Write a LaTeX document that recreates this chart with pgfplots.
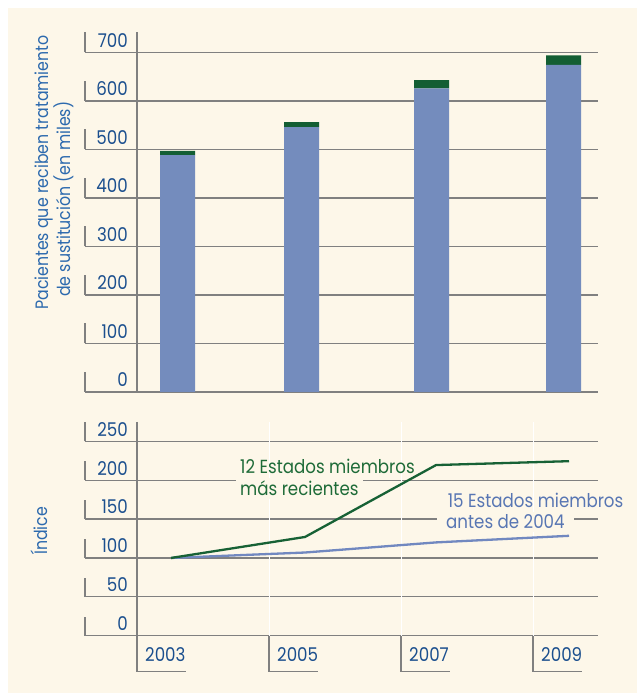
\documentclass[border=0pt]{standalone}
\usepackage{pgfplots}
\pgfplotsset{compat=1.18}
\usepackage{fontspec}
\setmainfont{Poppins}[FakeStretch=0.88]
\definecolor{cream}{HTML}{FDF7E9}
\definecolor{barblue}{HTML}{748CBD}
\definecolor{bargreen}{HTML}{135E33}
\definecolor{ticktext}{HTML}{1B4F8E}
\definecolor{labtext}{HTML}{2D6AAE}
\definecolor{gridc}{HTML}{808080}
\definecolor{greentext}{HTML}{1E6B38}
\definecolor{bluetext}{HTML}{5876B3}
\definecolor{greenline}{HTML}{176135}
\definecolor{blueline}{HTML}{7188C0}
\newcommand{\tickfont}{\fontsize{19}{22}\selectfont}
\newcommand{\annfont}{\fontsize{19}{22}\selectfont}
\newcommand{\labfont}{\fontsize{18}{21}\selectfont}
\begin{document}
\begin{tikzpicture}[x=1bp,y=1bp]
\fill[white] (0,0) rectangle (637,693);
\fill[cream] (8,0) rectangle (637,685);
% axis titles
\node[rotate=90, anchor=base west, inner sep=0pt, text=labtext, font=\labfont] at (48,693-310) {Pacientes que reciben tratamiento};
\node[rotate=90, anchor=base west, inner sep=0pt, text=labtext, font=\labfont] at (70,693-297) {de sustitución (en miles)};
\node[rotate=90, anchor=base west, inner sep=0pt, text=labtext, font=\labfont] at (47,693-555) {Índice};

% ---------------- top panel ----------------
\begin{axis}[
  at={(85bp,301bp)}, anchor=south west,
  scale only axis, width=513bp, height=360bp,
  xmin=85, xmax=598, ymin=0, ymax=742,
  axis line style={draw=none},
  major tick length=0pt,
  xtick=\empty,
  ytick={0,100,...,700},
  ymajorgrids,
  grid style={gridc, line width=1.3bp},
  /pgf/number format/assume math mode=true,
  yticklabel style={anchor=south east, inner sep=0pt, xshift=43bp, yshift=5bp, text=ticktext, font=\tickfont},
  ybar stacked, bar width=35,
  clip=false,
]
\addplot[fill=barblue, draw=none] coordinates {(177.5,488) (301.5,546) (431.5,626) (563.5,674)};
\addplot[fill=bargreen, draw=none] coordinates {(177.5,9) (301.5,10) (431.5,17) (563.5,20)};
\draw[gridc, line width=1.3bp] (axis cs:137,0) -- (axis cs:137,742);
\pgfplotsinvokeforeach{0,100,...,700}{\draw[gridc, line width=1.3bp] (axis cs:85,#1) -- (axis cs:85,{#1+41.2});}
\end{axis}

% ---------------- bottom panel ----------------
\begin{axis}[
  at={(85bp,57.3bp)}, anchor=south west,
  scale only axis, width=513bp, height=213.7bp,
  xmin=85, xmax=598, ymin=0, ymax=274.9,
  axis line style={draw=none},
  major tick length=0pt,
  xtick={137,269,401,533},
  xticklabels={2003,2005,2007,2009},
  xticklabel style={anchor=west, inner sep=0pt, xshift=8bp, yshift=-19bp, text=ticktext, font=\tickfont},
  ytick={0,50,...,250},
  ymajorgrids,
  grid style={gridc, line width=1.3bp},
  /pgf/number format/assume math mode=true,
  yticklabel style={anchor=south east, inner sep=0pt, xshift=43bp, yshift=5bp, text=ticktext, font=\tickfont},
  clip=false,
]
\pgfplotsinvokeforeach{269,401,533}{\draw[white, line width=1bp] (axis cs:#1,0) -- (axis cs:#1,274.9);}
\draw[gridc, line width=1.3bp] (axis cs:137,274.9) -- (axis cs:137,0);
\pgfplotsinvokeforeach{0,50,...,250}{\draw[gridc, line width=1.3bp] (axis cs:85,#1) -- (axis cs:85,{#1+24.4});}
\pgfplotsinvokeforeach{137,269,401,533}{\draw[gridc, line width=1.3bp] (axis cs:#1,0) -- (axis cs:#1,-46.3) -- (axis cs:{#1+49},-46.3);}
\node[anchor=base west, inner sep=0pt, text=greentext, font=\annfont] at (axis cs:240,208.9) {12 Estados miembros};
\node[anchor=base west, inner xsep=4bp, inner ysep=3bp, fill=cream, text=greentext, font=\annfont] at ([xshift=-4bp]axis cs:240,180.1) {más recientes};
\node[anchor=base west, inner sep=0pt, text=bluetext, font=\annfont] at (axis cs:447.7,165.2) {15 Estados miembros};
\node[anchor=base west, inner xsep=9bp, inner ysep=3bp, fill=cream, text=bluetext, font=\annfont] at ([xshift=-9bp]axis cs:446,137.3) {antes de 2004};
\addplot[blueline, line width=2.3bp] coordinates {(171,100) (305,107) (436,120) (569,128.5)};
\addplot[greenline, line width=2.3bp] coordinates {(171,100) (305,127) (436,219.5) (569,224.5)};
\end{axis}
\end{tikzpicture}
\end{document}
